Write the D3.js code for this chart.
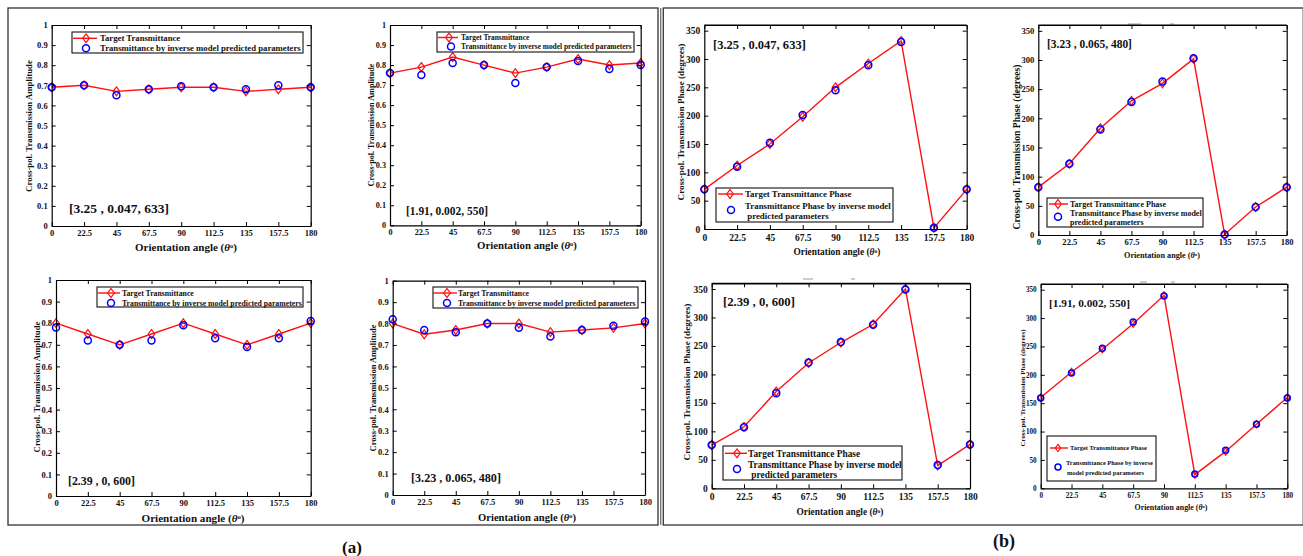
<!DOCTYPE html>
<html><head><meta charset="utf-8">
<script src="https://cdn.jsdelivr.net/npm/d3@7"></script>
<style>
html,body{margin:0;padding:0;background:#fff;}
svg text{font-family:"Liberation Serif","Times New Roman",serif;font-weight:bold;fill:#111;}
</style></head>
<body><svg id="c" width="1303" height="556"></svg>
<script>
// ---------- data ----------
const angles = [0, 22.5, 45, 67.5, 90, 112.5, 135, 157.5, 180];
const angleTickLabels = ["0","22.5","45","67.5","90","112.5","135","157.5","180"];
const ampTicks = [0,0.1,0.2,0.3,0.4,0.5,0.6,0.7,0.8,0.9,1];
const ampTickLabels = ["0","0.1","0.2","0.3","0.4","0.5","0.6","0.7","0.8","0.9","1"];
const phaseTicks = [0,50,100,150,200,250,300,350];

// (a) amplitude
const amp1Target = [0.69,0.70,0.67,0.68,0.69,0.69,0.67,0.68,0.69];
const amp1Pred   = [0.69,0.70,0.65,0.68,0.695,0.69,0.68,0.70,0.69];
const amp2Target = [0.76,0.79,0.84,0.80,0.76,0.79,0.83,0.80,0.81];
const amp2Pred   = [0.76,0.75,0.81,0.80,0.71,0.79,0.82,0.78,0.80];
const amp3Target = [0.80,0.75,0.70,0.75,0.80,0.75,0.70,0.75,0.80];
const amp3Pred   = [0.78,0.72,0.70,0.72,0.79,0.73,0.69,0.73,0.81];
const amp4Target = [0.80,0.75,0.77,0.80,0.80,0.76,0.77,0.78,0.80];
const amp4Pred   = [0.82,0.77,0.76,0.80,0.78,0.74,0.77,0.79,0.81];
// (b) phase (degrees)
const ph1Target = [70,112,150,198,250,292,332,2,70];
const ph1Pred   = [70,110,152,201,245,289,330,2,70];
const ph2Target = [82,122,183,230,260,302,1,48,82];
const ph2Pred   = [82,122,181,228,263,303,1,48,82];
const ph3Target = [76,108,170,220,256,288,350,40,77];
const ph3Pred   = [76,107,167,221,257,287,349,41,77];
const ph4Target = [160,205,245,290,340,24,65,113,160];
const ph4Pred   = [159,203,247,293,339,25,67,113,159];

const paramLabels = ["[3.25 , 0.047, 633]","[1.91, 0.002, 550]","[2.39 , 0, 600]","[3.23 , 0.065, 480]"];
const ampLegend = ["Target Transmittance","Transmittance by inverse model predicted parameters"];
const phaseLegend = ["Target Transmittance Phase","Transmittance Phase by inverse model"," predicted parameters"];
const phaseLegendSmall = ["Target Transmittance Phase","Transmittance Phase by inverse","model predicted parameters"];
const ampYLabel = "Cross-pol. Transmission Amplitude";
const phaseYLabel = "Cross-pol. Transmission Phase (degrees)";

// ---------- layout ----------
const panels = [
 {kind:"amp", t:amp1Target, p:amp1Pred, lab:paramLabels[0], r:[51.7,310.7,25,226], tf:8.5, pad:4,
  ann:[69,208,100], yl:[29,126,132], xl:[186,247,102],
  leg:{box:[72,32,303,53], l:[73,97,86], tx:100, ty:[38.3,48.3], bx:86, by:48.3, w:201}},
 {kind:"amp", t:amp2Target, p:amp2Pred, lab:paramLabels[1], r:[390,640.7,25,225.3], tf:8.2, pad:4,
  ann:[406,211,82], yl:[371,125,123], xl:[527,245,100],
  leg:{box:[437,32,634,52], l:[438,458,449], tx:461, ty:[37.5,46.5], bx:451, by:46.5, w:171}},
 {kind:"amp", t:amp3Target, p:amp3Pred, lab:paramLabels[2], r:[56,310.7,280,496], tf:8.5, pad:4,
  ann:[68,481,67], yl:[37,387,131], xl:[193,518,103],
  leg:{box:[97,287,303,307], l:[98,120,111], tx:122, ty:[293,303], bx:111, by:303, w:180}},
 {kind:"amp", t:amp4Target, p:amp4Pred, lab:paramLabels[3], r:[392.7,645,280.7,495], tf:8.5, pad:4,
  ann:[411,478,90], yl:[373,388,127], xl:[527,517,98],
  leg:{box:[433,287,638,308], l:[433,457,447], tx:458, ty:[293,303], bx:447, by:303, w:178}},
 {kind:"ph", t:ph1Target, p:ph1Pred, lab:paramLabels[0], r:[704.3,966.7,25,229], tf:9.5, pad:5,
  ann:[713,44,93], yl:[681,122,157], xl:[837,252,87],
  leg:{box:[716,188,893,222], l:[718,743,730], tx:745, tx3:745, ty:[194,205.5,216], bx:731, by:210, w:146}, lines:phaseLegend},
 {kind:"ph", t:ph2Target, p:ph2Pred, lab:paramLabels[3], r:[1038.3,1286.7,25,235], tf:8.6, pad:4,
  ann:[1047,44,85], yl:[1017,147,165], xl:[1162,255,76],
  leg:{box:[1047,198,1203,227], l:[1049,1068,1058], tx:1070, tx3:1070, ty:[204,212.7,221.7], bx:1058, by:216.7, w:132}, lines:phaseLegend.map((s,i)=>i==2?s.trim():s)},
 {kind:"ph", t:ph3Target, p:ph3Pred, lab:paramLabels[2], r:[711.7,970,283.3,488.3], tf:9.5, pad:5,
  ann:[723,301,72], yl:[687,382,157], xl:[840,512,87],
  leg:{box:[723,446,902,480], l:[725,747,737], tx:748, tx3:749, ty:[453.3,464.3,475], bx:737, by:469, w:154}, lines:phaseLegend},
 {kind:"ph", t:ph4Target, p:ph4Pred, lab:paramLabels[1], r:[1040.7,1287.3,284,488.3], tf:7.2, pad:5, small:true,
  ann:[1049,303,81], yl:[1023,388,117], xl:[1171,507,73],
  leg:{box:[1047,436,1156,481], l:[1050,1068,1058], tx:1070, tx2:1066, tx3:1067, ty:[448,463,472.5], bx:1058, by:467, w:87}, lines:phaseLegendSmall}
];

const svg = d3.select("#c");
const RED = "#ff1010", BLUE = "#0000ff";

function fit(t, w){
  const fs = parseFloat(t.attr("font-size"));
  const L = t.node().getComputedTextLength();
  if (L > 0) t.attr("font-size", fs * w / L);
  return t;
}
function diamondPath(s){ const h=s, w=s*0.75; return `M0,${-h}L${w},0L0,${h}L${-w},0Z`; }

// frames
svg.append("rect").attr("x",8).attr("y",8).attr("width",650).attr("height",517)
  .attr("fill","none").attr("stroke","#333").attr("stroke-width",1.3);
svg.append("line").attr("x1",660.8).attr("x2",660.8).attr("y1",8).attr("y2",525)
  .attr("stroke","#444").attr("stroke-width",1);
svg.append("rect").attr("x",663.3).attr("y",8).attr("width",640).attr("height",517)
  .attr("fill","none").attr("stroke","#333").attr("stroke-width",1.3);

// faint remnants above some phase panels
[[1128,1141,24],[1170,1174,24],[803,813,279],[851,855,279],[1140,1147,282],[1171,1175,282]].forEach(d=>{
  svg.append("line").attr("x1",d[0]).attr("x2",d[1]).attr("y1",d[2]).attr("y2",d[2])
    .attr("stroke","#999").attr("stroke-width",1);
});

panels.forEach(P => {
  const [x0,x1,y0,y1] = P.r;
  const g = svg.append("g");
  const x = d3.scaleLinear().domain([0,180]).range([x0,x1]);
  const y = P.kind==="amp" ? d3.scaleLinear().domain([0,1]).range([y1,y0])
                           : d3.scaleLinear().domain([0,360]).range([y1,y0]);
  const yt = P.kind==="amp" ? ampTicks : phaseTicks;
  const yfmt = P.kind==="amp" ? ((d,i)=>ampTickLabels[i]) : d3.format("d");

  g.append("rect").attr("x",x0).attr("y",y0).attr("width",x1-x0).attr("height",y1-y0).attr("fill","#fff");

  // data
  const line = d3.line().x((d,i)=>x(angles[i])).y(d=>y(d));
  g.append("path").datum(P.t).attr("d",line).attr("fill","none").attr("stroke",RED).attr("stroke-width",1.4);
  const ms = P.small ? 3.6 : 4.4, cr = P.small ? 3 : 3.5;
  g.selectAll(".dm").data(P.t).enter().append("path")
    .attr("transform",(d,i)=>`translate(${x(angles[i])},${y(d)})`)
    .attr("d",diamondPath(ms)).attr("fill","none").attr("stroke",RED).attr("stroke-width",1.2);
  g.selectAll(".ci").data(P.p).enter().append("circle")
    .attr("cx",(d,i)=>x(angles[i])).attr("cy",d=>y(d)).attr("r",cr)
    .attr("fill","none").attr("stroke",BLUE).attr("stroke-width",1.5);

  // axes (MATLAB box, inward ticks)
  const styleAx = (sel, fs) => {
    sel.selectAll("path.domain").attr("stroke","#000").attr("stroke-width",1.2);
    sel.selectAll(".tick line").attr("stroke","#000").attr("stroke-width",1);
    sel.selectAll("text").attr("font-size",fs).attr("font-family",null).attr("fill","#111");
  };
  const ax = g.append("g").attr("transform",`translate(0,${y1})`)
    .call(d3.axisBottom(x).tickValues(angles).tickFormat((d,i)=>angleTickLabels[i]).tickSizeInner(-4).tickSizeOuter(0).tickPadding(P.pad));
  styleAx(ax, P.tf);
  const at = g.append("g").attr("transform",`translate(0,${y0})`)
    .call(d3.axisTop(x).tickValues(angles).tickFormat("").tickSizeInner(-4).tickSizeOuter(0));
  styleAx(at, P.tf);
  const ay = g.append("g").attr("transform",`translate(${x0},0)`)
    .call(d3.axisLeft(y).tickValues(yt).tickFormat(yfmt).tickSizeInner(-4).tickSizeOuter(0).tickPadding(4));
  styleAx(ay, P.tf);
  const ar = g.append("g").attr("transform",`translate(${x1},0)`)
    .call(d3.axisRight(y).tickValues(yt).tickFormat("").tickSizeInner(-4).tickSizeOuter(0));
  styleAx(ar, P.tf);
  if (P.kind==="ph") {
    g.append("line").attr("x1",x0).attr("x2",x1).attr("y1",y0).attr("y2",y0).attr("stroke","#000").attr("stroke-width",1.2);
  }

  // parameter annotation
  const an = g.append("text").attr("x",P.ann[0]).attr("y",P.ann[1]).attr("dy","0.36em")
    .attr("font-size",13).text(P.lab);
  fit(an, P.ann[2]);

  // y label
  const ylab = g.append("text").attr("transform",`translate(${P.yl[0]},${P.yl[1]}) rotate(-90)`)
    .attr("text-anchor","middle").attr("dy","0.35em").attr("font-size",8.5)
    .text(P.kind==="amp" ? ampYLabel : phaseYLabel);
  fit(ylab, P.yl[2]);

  // x label
  const xlab = g.append("text").attr("x",P.xl[0]).attr("y",P.xl[1]).attr("dy","0.35em")
    .attr("text-anchor","middle").attr("font-size",9);
  xlab.append("tspan").text("Orientation angle (");
  xlab.append("tspan").attr("font-style","italic").text("\u03b8");
  xlab.append("tspan").attr("dy","-0.45em").attr("font-size","0.6em").text("o");
  xlab.append("tspan").attr("dy","0.27em").text(")");
  fit(xlab, P.xl[2]);

  // legend
  const L = P.leg, [bx0,by0,bx1,by1] = L.box;
  const lg = g.append("g");
  lg.append("rect").attr("x",bx0).attr("y",by0).attr("width",bx1-bx0).attr("height",by1-by0)
    .attr("fill","#fff").attr("stroke","#111").attr("stroke-width",1.1);
  lg.append("line").attr("x1",L.l[0]).attr("x2",L.l[1]).attr("y1",L.ty[0]).attr("y2",L.ty[0])
    .attr("stroke",RED).attr("stroke-width",1.4);
  lg.append("path").attr("transform",`translate(${L.l[2]},${L.ty[0]})`).attr("d",diamondPath(ms))
    .attr("fill","none").attr("stroke",RED).attr("stroke-width",1.2);
  lg.append("circle").attr("cx",L.bx).attr("cy",L.by).attr("r",cr)
    .attr("fill","none").attr("stroke",BLUE).attr("stroke-width",1.5);
  if (P.kind==="amp") {
    const t2 = lg.append("text").attr("x",L.tx).attr("y",L.ty[1]).attr("dy","0.35em").attr("font-size",8).text(ampLegend[1]);
    fit(t2, L.w);
    lg.append("text").attr("x",L.tx).attr("y",L.ty[0]).attr("dy","0.35em").attr("font-size",t2.attr("font-size")).text(ampLegend[0]);
  } else {
    const lines = P.lines;
    const t2 = lg.append("text").attr("x",L.tx2||L.tx).attr("y",L.ty[1]).attr("dy","0.35em").attr("font-size",8).text(lines[1]);
    fit(t2, L.w);
    const fs = t2.attr("font-size");
    lg.append("text").attr("x",L.tx).attr("y",L.ty[0]).attr("dy","0.35em").attr("font-size",fs).text(lines[0]);
    lg.append("text").attr("x",L.tx3).attr("y",L.ty[2]).attr("dy","0.35em").attr("font-size",fs)
      .style("white-space","pre").text(lines[2]);
  }
});

// sub-figure labels
svg.append("text").attr("x",352).attr("y",553).attr("text-anchor","middle").attr("font-size",17).text("(a)");
svg.append("text").attr("x",1004).attr("y",547).attr("text-anchor","middle").attr("font-size",18).text("(b)");
</script></body></html>
